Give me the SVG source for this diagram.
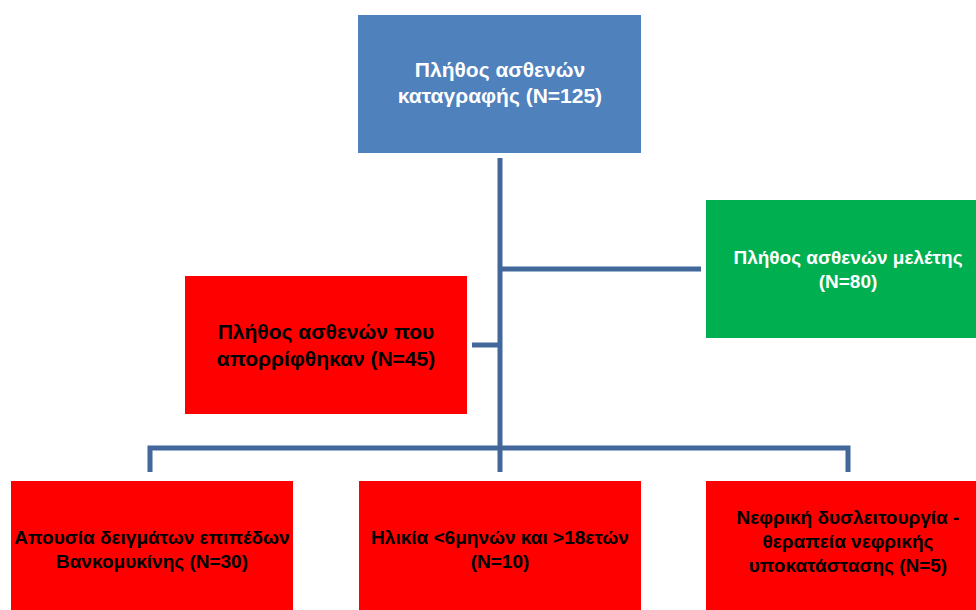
<svg xmlns="http://www.w3.org/2000/svg" width="976" height="610" viewBox="0 0 976 610">
<style>
.box{stroke:none}
.blue{fill:#4F81BD}
.green{fill:#00B050}
.red{fill:#FF0000}
.t{font-family:"Liberation Sans",Arial,sans-serif;font-weight:bold;text-anchor:middle;font-size:19px}
.big{font-size:21px}
.w{fill:#FFFFFF}
.k{fill:#000000}
.c{fill:none;stroke:#41679B;stroke-width:5}
</style>
<rect width="976" height="610" fill="#FFFFFF"/>
<g id="connectors">
<path class="c" d="M500 158 V472"/>
<path class="c" d="M500 269 H701"/>
<path class="c" d="M472 345 H500"/>
<path class="c" d="M150 472 V448 H848 V472"/>
</g>
<g id="n-total">
<rect class="box blue" x="358" y="15" width="283" height="138"/>
<text class="t big w" x="500" y="77">Πλήθος ασθενών</text>
<text class="t big w" x="500" y="103">καταγραφής (Ν=125)</text>
</g>
<g id="n-study">
<rect class="box green" x="706" y="200" width="283" height="138"/>
<text class="t w" x="848" y="264">Πλήθος ασθενών μελέτης</text>
<text class="t w" x="848" y="288">(Ν=80)</text>
</g>
<g id="n-rejected">
<rect class="box red" x="185" y="276" width="282" height="138"/>
<text class="t big k" x="326" y="339">Πλήθος ασθενών που</text>
<text class="t big k" x="326" y="366">απορρίφθηκαν (Ν=45)</text>
</g>
<g id="n-vanco">
<rect class="box red" x="11" y="481" width="282" height="138"/>
<text class="t k" x="152" y="544">Απουσία δειγμάτων επιπέδων</text>
<text class="t k" x="152" y="568">Βανκομυκίνης (Ν=30)</text>
</g>
<g id="n-age">
<rect class="box red" x="359" y="481" width="282" height="138"/>
<text class="t k" x="500" y="544">Ηλικία &lt;6μηνών και &gt;18ετών</text>
<text class="t k" x="500" y="568">(Ν=10)</text>
</g>
<g id="n-renal">
<rect class="box red" x="706" y="481" width="283" height="138"/>
<text class="t k" x="848" y="524">Νεφρική δυσλειτουργία -</text>
<text class="t k" x="848" y="548">θεραπεία νεφρικής</text>
<text class="t k" x="848" y="572">υποκατάστασης (Ν=5)</text>
</g>
</svg>
